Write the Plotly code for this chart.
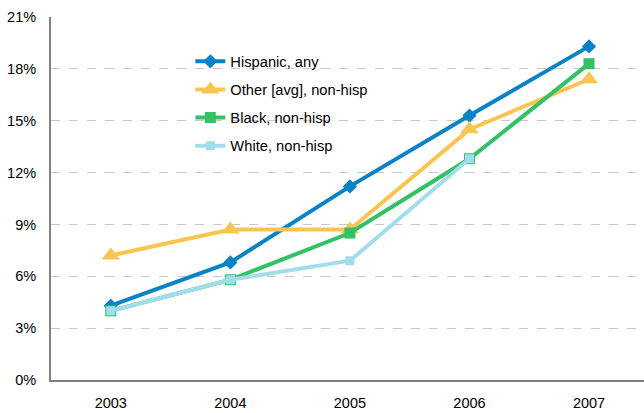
import plotly.graph_objects as go

years = ["2003", "2004", "2005", "2006", "2007"]
hispanic = [4.3, 6.8, 11.2, 15.3, 19.3]
other = [7.2, 8.7, 8.7, 14.5, 17.4]
black = [4.0, 5.8, 8.5, 12.8, 18.3]
white = [4.0, 5.8, 6.9, 12.8, None]

y_ticks = [0, 3, 6, 9, 12, 15, 18, 21]
y_tick_text = [f"{v}%" for v in y_ticks]

series = [
    ("Hispanic, any", hispanic, "#0A83C6", "diamond", 11),
    ("Other [avg], non-hisp", other, "#F8C550", "triangle-up", 16),
    ("Black, non-hisp", black, "#33C166", "square", 11),
    ("White, non-hisp", white, "#A3DDEC", "square", 9),
]

fig = go.Figure()
for i, (name, vals, color, symbol, size) in enumerate(series):
    fig.add_trace(go.Scatter(
        x=years, y=vals, name=name, mode="lines+markers",
        line=dict(color=color, width=4),
        marker=dict(symbol=symbol, size=size, color=color, line=dict(width=0)),
        legendgroup=f"g{i}",
        connectgaps=False,
    ))

fig.update_layout(
    width=644, height=413,
    margin=dict(l=51, r=0, t=17, b=33),
    paper_bgcolor="white", plot_bgcolor="white",
    font=dict(family="Liberation Sans, Arial, sans-serif", size=14.5, color="#000000"),
    showlegend=True,
    legend=dict(
        x=0.235, y=0.922, xanchor="left", yanchor="top",
        bgcolor="rgba(0,0,0,0)", font=dict(size=14.7),
        tracegroupgap=6,
    ),
)
fig.update_xaxes(
    type="category", range=[-0.5, 4.46],
    showgrid=False, showline=True, linecolor="#808080", linewidth=2,
    ticks="", ticklabelstandoff=9, tickfont=dict(size=14.5),
)
fig.update_yaxes(
    range=[0, 21], tickvals=y_ticks, ticktext=y_tick_text,
    showgrid=True, gridcolor="#C8C8C8", griddash="dash", gridwidth=1,
    showline=True, linecolor="#808080", linewidth=2,
    zeroline=False, ticks="", ticklabelstandoff=10, tickfont=dict(size=14.5),
)

fig.write_html("out.html")
